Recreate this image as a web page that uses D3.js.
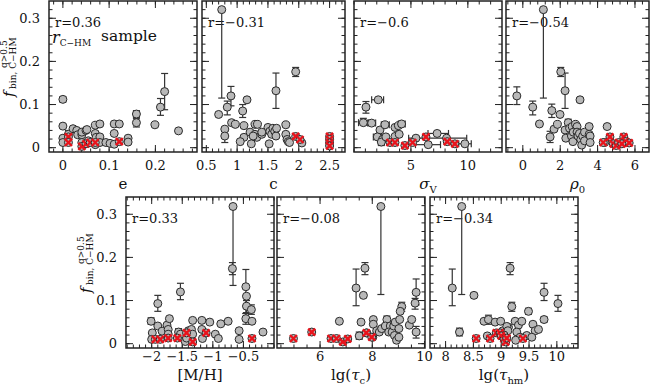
<!DOCTYPE html>
<html>
<head>
<meta charset="utf-8">
<script src="https://cdn.jsdelivr.net/npm/d3@7"></script>
<style>
body { margin: 0; background: #fff; }
text { font-family: "DejaVu Serif", serif; fill: #111; }
</style>
</head>
<body>
<script>
// points are [x, f, fLow, fHigh] (error ends optional); sigma panel adds xLow, xHigh
var ePts = [[0,0.112,0.106,0.118],[0,0.050],[0,0.022],[0,0.012],[0.012,0.031,0.024,0.040],
  [0.022,0.044],[0.030,0.040],[0.032,0.030],[0.041,0.030],[0.041,0.036],[0.041,0.012],
  [0.050,0.040],[0.052,0.042],[0.055,0.016],[0.070,0.052],[0.080,0.055],[0.070,0.033],
  [0.072,0.024],[0.080,0.025],[0.070,0.007],[0.080,0.012],[0.093,0.012],[0.102,0.010],
  [0.111,0.055],[0.111,0.033],[0.111,0.008],[0.122,0.055],[0.141,0.022],[0.141,0.013],
  [0.159,0.078,0.070,0.086],[0.159,0.058,0.048,0.068],[0.199,0.053],
  [0.211,0.094,0.075,0.114],[0.220,0.130,0.088,0.172],[0.250,0.039]];
var eRed = [[0.012,0.025],[0.012,0.012],[0.041,0.003],[0.050,0.009],[0.059,0.012],[0.070,0.012],[0.122,0.014]];

var cPts = [[0.75,0.320,0.115,0.320],[0.90,0.120,0.097,0.142],[0.84,0.094,0.076,0.108],[0.70,0.077],
  [1.16,0.111],[1.09,0.085,0.070,0.100],[1.63,0.132,0.091,0.173],[1.95,0.176,0.165,0.186],
  [1.79,0.053],[1.50,0.047],[0.91,0.058],[0.97,0.054],[0.80,0.043],[0.80,0.027,0.012,0.038],
  [1.11,0.051],[1.11,0.024],[1.05,0.014],[1.23,0.009],[1.21,0.036],[1.29,0.054],[1.33,0.054],
  [1.29,0.031],[1.32,0.024],[1.26,0.027],[1.40,0.031],[1.40,0.036],[1.52,0.009],[1.53,0.038],
  [1.56,0.031],[1.58,0.045],[1.61,0.038],[1.63,0.027],[1.64,0.045],[1.79,0.031],[1.81,0.019],
  [1.83,0.014],[1.85,0.012],[2.05,0.011]];
var cRed = [[1.95,0.026],[2.02,0.019],[2.5,0.026],[2.5,0.019],[2.5,0.011],[2.5,0.004]];

var sigPts = [[1.05,0.094,0.080,0.107],[2.13,0.111,null,null,1.55,2.6],[0.82,0.058,0.052,0.068,0.4,1.3],
  [1.55,0.057,null,null,1.2,1.9],[2.28,0.041],[2.72,0.053,null,null,2.4,3.1],[3.60,0.047],
  [3.90,0.051],[4.18,0.055,null,null,3.9,4.5],[2.05,0.025,null,null,1.7,2.4],[2.50,0.019],
  [2.40,0.013,0.005,0.020],[2.80,0.025],[3.60,0.026],[3.97,0.031],[5.44,0.022],
  [6.52,0.007,null,null,5.4,7.6],[7.30,0.033,null,null,6.5,8.3],[8.13,0.022,null,null,4.8,9.9],
  [9.74,0.009,null,null,9.2,10.3]];
var sigRed = [[3.16,0.012],[3.60,0.012],[4.47,0.005],[5.15,0.012],[6.32,0.025],[8.19,0.014],[8.86,0.009]];

var rhoPts = [[-0.32,0.120,0.100,0.141],[1.10,0.320,0.115,0.320],[0.53,0.094,0.076,0.108],
  [0.89,0.055,0.050,0.060],[1.46,0.025,0.012,0.038],[1.55,0.086,0.070,0.101],[1.67,0.043],
  [1.85,0.054],[1.99,0.077],[2.03,0.176,0.165,0.186],[2.26,0.132,0.091,0.173],
  [3.06,0.111,0.106,0.116],[2.26,0.041],[2.30,0.022],[2.43,0.058,0.050,0.066],[2.50,0.045],
  [2.60,0.027],[2.64,0.049],[2.68,0.014],[2.82,0.054],[2.90,0.049],[2.70,0.036],[2.90,0.036],
  [2.95,0.027],[3.03,0.033],[3.10,0.019],[3.15,0.006],[3.20,0.027],[3.30,0.016],[3.30,0.036],
  [3.55,0.049],[3.55,0.031],[3.60,0.027],[3.60,0.012],[4.51,0.049],[4.38,0.012]];
var rhoRed = [[4.30,0.012],[4.66,0.025],[4.84,0.009],[5.00,0.005],[5.13,0.012],[5.40,0.025],
  [5.50,0.014],[5.69,0.011],[5.30,0.009]];

var mhPts = [[-2.01,0.052,0.045,0.060],[-1.99,0.025],[-2.00,0.010],[-1.90,0.041],
  [-1.90,0.093,0.075,0.112],[-1.83,0.029],[-1.75,0.043],[-1.73,0.033],[-1.71,0.058],[-1.73,0.022],
  [-1.56,0.027,0.020,0.035],[-1.53,0.120,0.102,0.140],[-1.53,0.022],[-1.45,0.005],[-1.43,0.013],
  [-1.40,0.030],[-1.33,0.054],[-1.35,0.033],[-1.33,0.022],[-1.18,0.054],[-1.18,0.033],
  [-1.17,0.012],[-1.05,0.050],[-0.96,0.022],[-0.91,0.012],[-0.87,0.046],[-0.75,0.052],
  [-0.67,0.318,0.135,0.318],[-0.68,0.174,0.160,0.188],[-0.57,0.030],[-0.57,0.010],
  [-0.46,0.132,0.070,0.172],[-0.45,0.110],[-0.45,0.087,0.072,0.100],[-0.46,0.058,0.045,0.070],
  [-0.37,0.079,0.068,0.090],[-0.36,0.052],[-0.18,0.027]];
var mhRed = [[-1.94,0.010],[-1.86,0.010],[-1.73,0.013],[-1.58,0.013],[-1.43,0.025],[-1.33,0.004],
  [-1.11,0.025],[-0.36,0.012]];

var tcPts = [[8.33,0.318,0.114,0.318],[7.72,0.175,0.160,0.188],[7.38,0.129,0.088,0.173],
  [7.66,0.112,0.107,0.117],[6.74,0.052],[7.57,0.050],[7.50,0.018,0.010,0.027],[7.79,0.025],
  [8.04,0.056],[8.04,0.045],[8.02,0.015],[8.17,0.030],[8.27,0.027],[8.36,0.035],
  [8.56,0.056,0.048,0.064],[8.50,0.041],[8.69,0.041],[8.63,0.027],[8.76,0.027],[8.85,0.019],
  [8.93,0.008],[9.02,0.015],[8.82,0.041],[8.88,0.050],[9.05,0.056],[9.13,0.086,0.075,0.096],
  [9.07,0.075],[9.02,0.035],[9.42,0.043],[9.51,0.056],[9.64,0.094,0.080,0.105],
  [9.68,0.119,0.090,0.150],[9.68,0.027,0.013,0.040]];
var tcRed = [[4.98,0.012],[5.68,0.027],[6.42,0.012],[6.63,0.012],[6.87,0.004],[7.06,0.011],
  [7.77,0.025],[7.98,0.015]];

var thmPts = [[8.29,0.318,0.114,0.318],[8.12,0.129,0.088,0.173],[8.25,0.027,0.018,0.036],
  [8.51,0.112,0.107,0.117],[8.69,0.052],[8.77,0.056,0.045,0.066],[8.75,0.018],[8.89,0.050],
  [8.99,0.052],[9.03,0.030],[9.13,0.038],[9.16,0.175,0.160,0.188],[9.19,0.086,0.075,0.096],
  [9.25,0.052],[9.31,0.043],[9.37,0.052],[9.28,0.027],[9.34,0.015],[9.26,0.008],
  [9.49,0.075,0.068,0.082],[9.46,0.019],[9.57,0.045],[9.61,0.030],[9.67,0.033],[9.55,0.015],
  [9.77,0.119,0.100,0.140],[9.77,0.056,0.050,0.062],[10.02,0.093,0.075,0.112],[9.10,0.040],
  [9.12,0.030],[9.05,0.020]];
var thmRed = [[8.55,0.012],[8.80,0.012],[8.91,0.025],[8.98,0.025],[9.00,0.018],[9.05,0.011],
  [9.08,0.004],[9.10,0.013],[9.39,0.012]];

// tick labels
var eTicks = [0, 0.1, 0.2];
var cTicks = [0.5, 1, 1.5, 2, 2.5];
var sigTicks = [5, 10];
var rhoTicks = [0, 2, 4, 6];
var mhTicks = [-2, -1.5, -1, -0.5];
var tcTicks = [6, 8, 10];
var thmTicks = [8, 8.5, 9, 9.5, 10];
var fTicks = [0, 0.1, 0.2, 0.3];
var rValues = ["0.36", "−0.31", "−0.6", "−0.54", "0.33", "−0.08", "−0.34"];

var svg = d3.select("body").append("svg")
    .attr("width", 655)
    .attr("height", 392);

//rows: plot box top/bottom, baseline of tick labels and of axis title
var rows = [{top: 1, bottom: 152, tickY: 170, titleY: 189},
            {top: 197, bottom: 348, tickY: 361, titleY: 380}];
// title pieces: [text, style] with style "" plain, "i" italic, "s" subscript
var panels = [
  {pts: ePts, red: eRed, ticks: eTicks, minor: 0.02, dom: [-0.03, 0.29], x0: 49, x1: 197, row: 0, title: [["e", ""]]},
  {pts: cPts, red: cRed, ticks: cTicks, minor: 0.1, dom: [0.43, 2.75], x0: 202, x1: 345, row: 0, title: [["c", ""]]},
  {pts: sigPts, red: sigRed, ticks: sigTicks, minor: 1, dom: [0, 13], x0: 354, x1: 502, row: 0, title: [["σ", "i"], ["V", "s"]]},
  {pts: rhoPts, red: rhoRed, ticks: rhoTicks, minor: 0.4, dom: [-0.9, 6.75], x0: 506, x1: 649, row: 0, title: [["ρ", "i"], ["0", "s"]]},
  {pts: mhPts, red: mhRed, ticks: mhTicks, minor: 0.1, dom: [-2.42, 0.0], x0: 126, x1: 274, row: 1, title: [["[M/H]", ""]]},
  {pts: tcPts, red: tcRed, ticks: tcTicks, minor: 0.5, dom: [4.35, 10.02], x0: 277, x1: 425, row: 1, title: [["lg(", ""], ["τ", "i"], ["c", "s"], [")", ""]]},
  {pts: thmPts, red: thmRed, ticks: thmTicks, minor: 0.1, dom: [7.72, 10.38], x0: 430, x1: 578, row: 1, title: [["lg(", ""], ["τ", "i"], ["hm", "s"], [")", ""]]}
];

var fmt = d3.format("");

panels.forEach(function(p, i) {
  var r = rows[p.row];
  var x = d3.scaleLinear().domain(p.dom).range([p.x0, p.x1]);
  var y = d3.scaleLinear().domain([-0.01, 0.34]).range([r.bottom, r.top]);
  var g = svg.append("g");

  //ticks on all four sides, pointing in
  var xMinor = d3.range(Math.ceil(p.dom[0] / p.minor) * p.minor, p.dom[1], p.minor);
  var yMinor = d3.range(0, 0.34, 0.02);
  var tk = [];
  xMinor.forEach(function(v) { tk.push({x: x(v), y: r.bottom, dx: 0, dy: -3.5}, {x: x(v), y: r.top, dx: 0, dy: 3.5}); });
  p.ticks.forEach(function(v) { tk.push({x: x(v), y: r.bottom, dx: 0, dy: -7}, {x: x(v), y: r.top, dx: 0, dy: 7}); });
  yMinor.forEach(function(v) { tk.push({x: p.x0, y: y(v), dx: 3.5, dy: 0}, {x: p.x1, y: y(v), dx: -3.5, dy: 0}); });
  fTicks.forEach(function(v) { tk.push({x: p.x0, y: y(v), dx: 7, dy: 0}, {x: p.x1, y: y(v), dx: -7, dy: 0}); });
  g.selectAll(".tk").data(tk).enter().append("line")
    .attr("x1", function(d) { return d.x; }).attr("y1", function(d) { return d.y; })
    .attr("x2", function(d) { return d.x + d.dx; }).attr("y2", function(d) { return d.y + d.dy; })
    .attr("stroke", "#222").attr("stroke-width", 1);

  g.append("rect").attr("x", p.x0).attr("y", r.top)
    .attr("width", p.x1 - p.x0).attr("height", r.bottom - r.top)
    .attr("fill", "none").attr("stroke", "#222").attr("stroke-width", 1.5);

  //tick labels
  g.selectAll(".xl").data(p.ticks).enter().append("text")
    .attr("x", function(d) { return x(d); })
    .attr("y", r.tickY)
    .attr("text-anchor", "middle").attr("font-size", 13)
    .text(function(d) { return fmt(d); });
  if (p.x0 < 130) {
    g.selectAll(".yl").data(fTicks).enter().append("text")
      .attr("x", p.x0 - 9).attr("y", function(d) { return y(d); })
      .attr("dy", "0.35em")
      .attr("text-anchor", "end").attr("font-size", 13)
      .text(function(d) { return fmt(d); });
    var lab = g.append("g").attr("transform", "translate(" + (p.x0 - 35) + "," + (r.top + 96) + ") rotate(-90)");
    lab.append("text").attr("x", 0).attr("y", 0).attr("font-size", 15).attr("font-style", "italic").text("f");
    lab.append("text").attr("x", 29).attr("y", -7).attr("font-size", 9).text("q>0.5");
    lab.append("text").attr("x", 8).attr("y", 2).attr("font-size", 9).text("bin, C−HM");
  }

  //axis title
  var t = g.append("text").attr("x", (p.x0 + p.x1) / 2).attr("y", r.titleY)
    .attr("text-anchor", "middle").attr("font-size", 15);
  var low = false;
  p.title.forEach(function(s) {
    var ts = t.append("tspan").text(s[0]);
    if (s[1] == "i") ts.attr("font-style", "italic");
    if (s[1] == "s") { ts.attr("font-size", 10).attr("dy", 4); low = true; }
    else if (low) { ts.attr("dy", -4); low = false; }
  });

  g.append("text").attr("x", p.x0 + 6).attr("y", r.top + 26).attr("font-size", 13)
    .text("r=" + rValues[i]);

  //error bars
  var eb = g.append("g").attr("stroke", "#333").attr("stroke-width", 1.2);
  p.pts.forEach(function(d) {
    var cx = x(d[0]), cy = y(d[1]);
    if (d[2] != null) {
      eb.append("line").attr("x1", cx).attr("x2", cx).attr("y1", y(d[2])).attr("y2", y(d[3]));
      if (d[2] != d[1]) eb.append("line").attr("x1", cx - 3.5).attr("x2", cx + 3.5).attr("y1", y(d[2])).attr("y2", y(d[2]));
      if (d[3] != d[1]) eb.append("line").attr("x1", cx - 3.5).attr("x2", cx + 3.5).attr("y1", y(d[3])).attr("y2", y(d[3]));
    }
    if (d[4] != null) {
      eb.append("line").attr("y1", cy).attr("y2", cy).attr("x1", x(d[4])).attr("x2", x(d[5]));
      eb.append("line").attr("y1", cy - 3.5).attr("y2", cy + 3.5).attr("x1", x(d[4])).attr("x2", x(d[4]));
      eb.append("line").attr("y1", cy - 3.5).attr("y2", cy + 3.5).attr("x1", x(d[5])).attr("x2", x(d[5]));
    }
  });

  g.selectAll(".pt").data(p.pts).enter().append("circle")
    .attr("cx", function(d) { return x(d[0]); })
    .attr("cy", function(d) { return y(d[1]); })
    .attr("r", 4)
    .attr("fill", "#b8b8b8").attr("stroke", "#2a2a2a").attr("stroke-width", 1);

  var red = g.selectAll(".rd").data(p.red).enter().append("g")
    .attr("transform", function(d) { return "translate(" + x(d[0]) + "," + y(d[1]) + ")"; });
  red.append("circle").attr("r", 4).attr("fill", "#b8b8b8").attr("stroke", "#2a2a2a").attr("stroke-width", 1);
  red.append("path").attr("d", "M-3.5,-3.5L3.5,3.5M-3.5,3.5L3.5,-3.5")
    .attr("stroke", "#e8141c").attr("stroke-width", 2.4);
});

//sample label in first panel
var s = svg.append("text").attr("x", 52).attr("y", 43);
s.append("tspan").attr("font-size", 16).attr("font-style", "italic").text("r");
s.append("tspan").attr("font-size", 9).attr("dy", 3).text("C−HM");
svg.append("text").attr("x", 101).attr("y", 41).attr("font-size", 15.5).text("sample");
</script>
</body>
</html>
